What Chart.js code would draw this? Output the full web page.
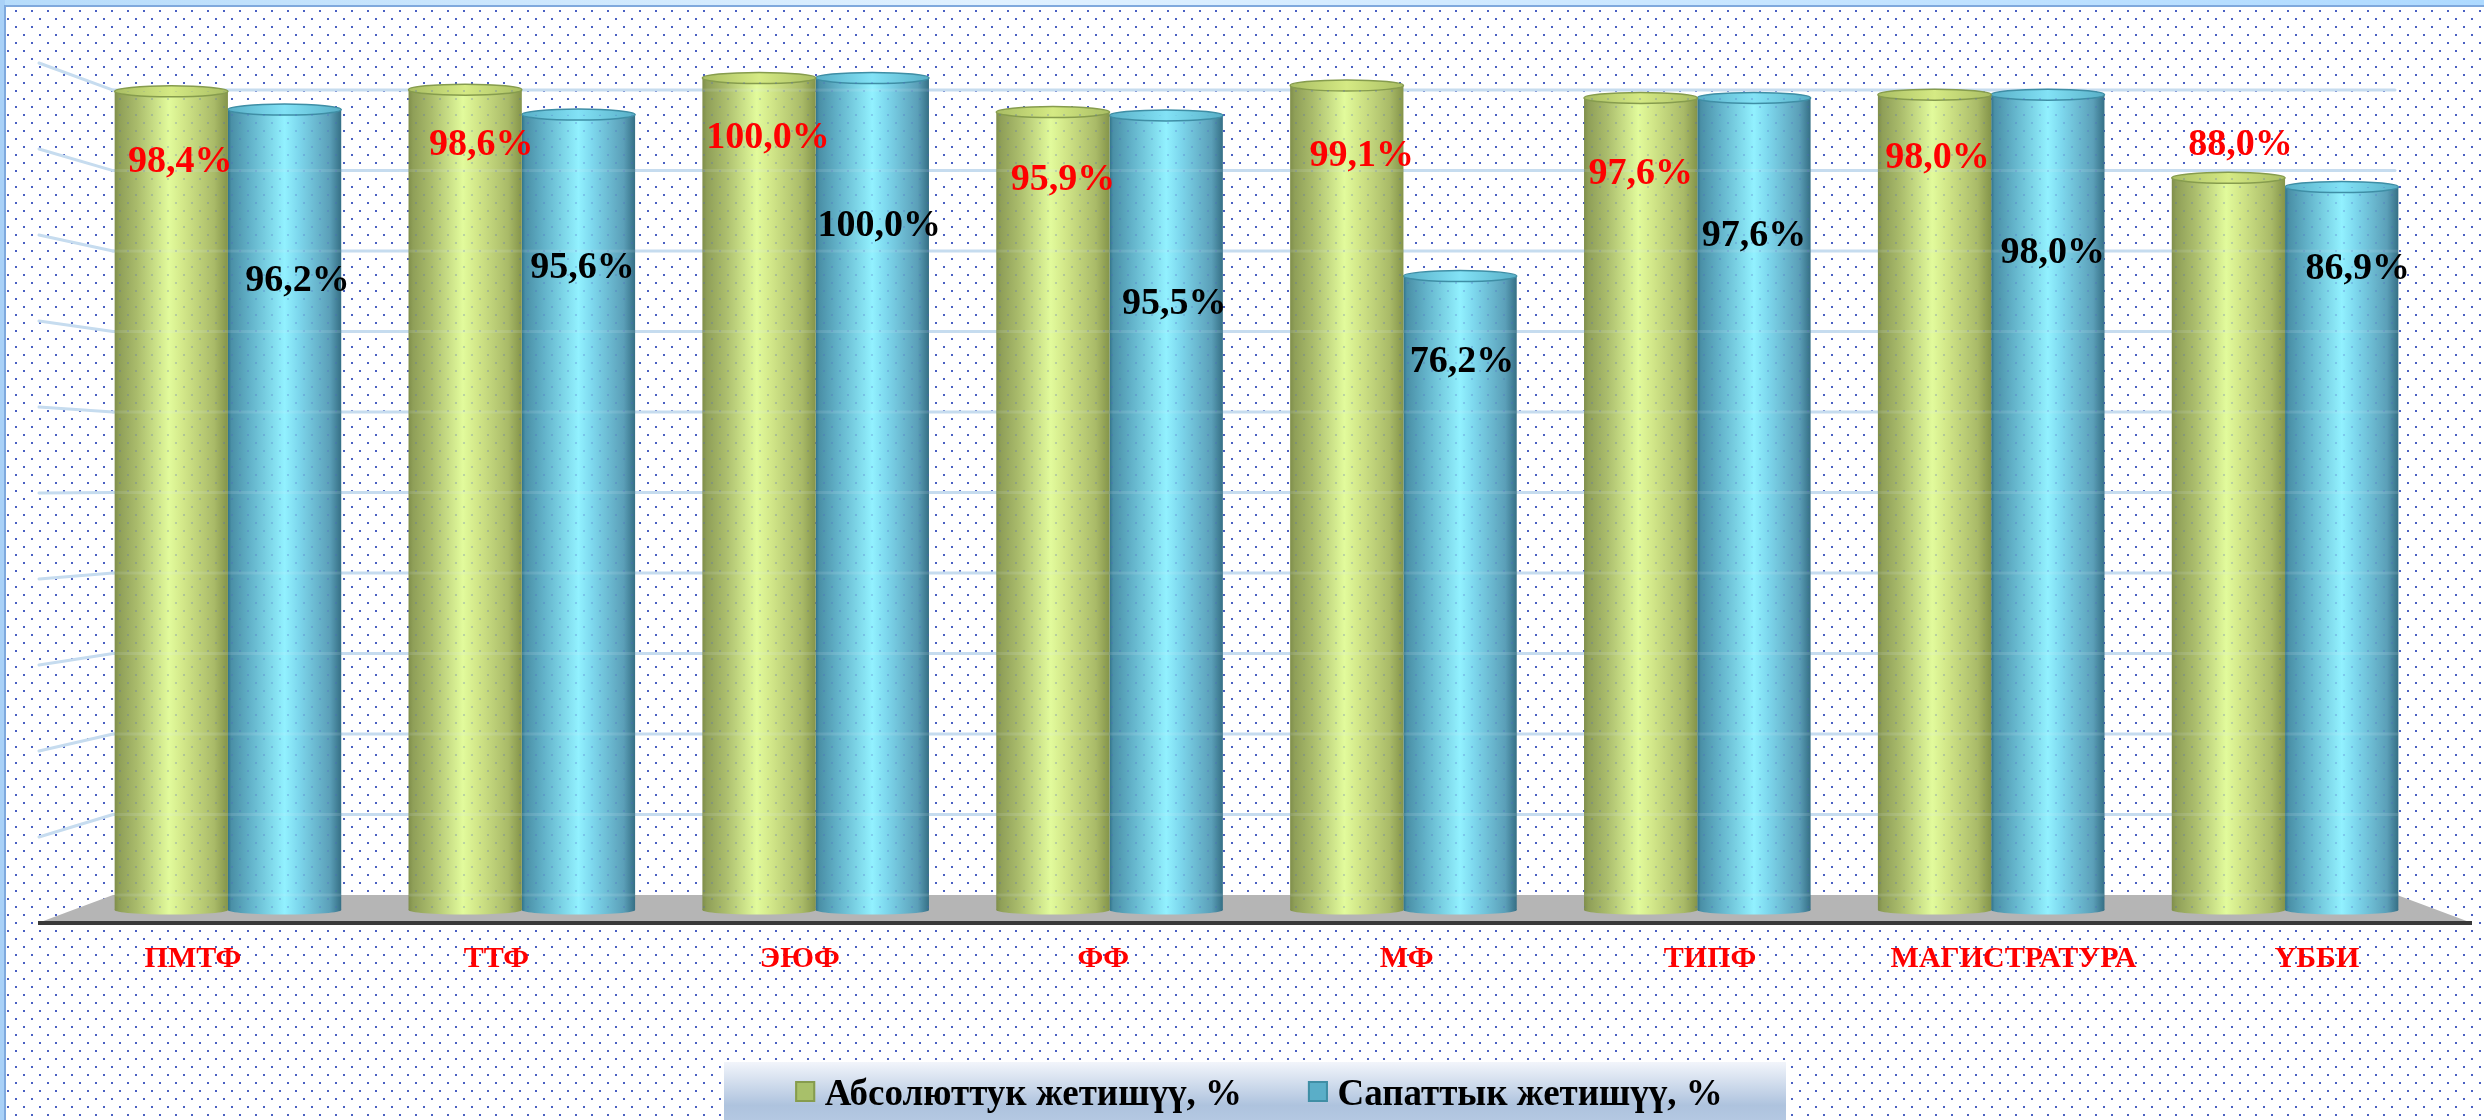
<!DOCTYPE html>
<html><head><meta charset="utf-8">
<style>html,body{margin:0;padding:0;background:#fff;overflow:hidden}#wrap{width:2484px;height:1120px}</style>
<script src="https://cdn.jsdelivr.net/npm/chart.js@4"></script>
</head><body><div id="wrap"><canvas id="c" width="2484" height="1120"></canvas></div>
<script>
const categories=['ПМТФ','ТТФ','ЭЮФ','ФФ','МФ','ТИПФ','МАГИСТРАТУРА','ҮББИ'];
const absolute=[98.4,98.6,100.0,95.9,99.1,97.6,98.0,88.0];
const quality=[96.2,95.6,100.0,95.5,76.2,97.6,98.0,86.9];
const seriesNames=['Абсолюттук жетишүү, %','Сапаттык жетишүү, %'];
const gridTicks=[0,10,20,30,40,50,60,70,80,90,100];
const absLabelOffsets=[[9,71],[16,56],[9,60],[10,68],[15,71],[0,76],[3,64],[12,-33]];
const qualLabelOffsets=[[13,172],[4,154],[7,148],[8,189],[2,86],[0,138],[5,159],[16,82]];

const SERIF='"Liberation Serif","Times New Roman",serif';
const CAT_PCT=0.771;
const styles=[
 {solid:'#a8c06a',edge:'#869c4e',capA:'#a9bd63',capB:'#d5ea84',
  stops:[[0,'#7f8e4a'],[.04,'#8f9f58'],[.2,'#aabc6c'],[.48,'#e2fb9c'],[.6,'#d3e88a'],[.88,'#a9ba68'],[1,'#84944a']]},
 {solid:'#5aaec8',edge:'#3f8ea5',capA:'#58aec6',capB:'#82e2f6',
  stops:[[0,'#2f7389'],[.03,'#4a8fa6'],[.2,'#63b3ca'],[.5,'#92f1ff'],[.62,'#7ed8ee'],[.9,'#5b9fb8'],[1,'#356f85']]}
];
function bandOf(chart,i,ds){
  const xs=chart.scales.x,c=xs.getPixelForValue(i),w=xs.width/categories.length*CAT_PCT/2;
  const left=c-w+ds*w;return [left,left+w];
}
function fillFor(ds){return ctx=>{
  if(ctx.type!=='data'||!ctx.chart.chartArea)return styles[ds].solid;
  const [l,r]=bandOf(ctx.chart,ctx.dataIndex,ds);
  const g=ctx.chart.ctx.createLinearGradient(l,0,r,0);
  styles[ds].stops.forEach(s=>g.addColorStop(s[0],s[1]));
  return g;
};}
function dotTile(){
  const t=document.createElement('canvas');t.width=16;t.height=16;
  const c=t.getContext('2d');c.fillStyle='#4a60c2';
  c.fillRect(15,10,1,2);c.fillRect(0,10,1,2);c.fillRect(7,2,2,2);
  return t;
}
const scene={
  id:'scene',
  beforeDraw(chart){
    const c=chart.ctx,W=chart.width,H=chart.height;
    c.save();
    c.fillStyle='#fff';c.fillRect(0,0,W,H);
    c.fillStyle=c.createPattern(dotTile(),'repeat');c.fillRect(6,6,W-6,H-6);
    let g=c.createLinearGradient(0,0,W,0);g.addColorStop(0,'#b6dcfb');g.addColorStop(.4,'#e0f1ff');g.addColorStop(1,'#aedaff');
    c.fillStyle=g;c.fillRect(0,0,W,5);
    c.fillStyle='#a9d1f7';c.fillRect(0,0,5,H);
    c.fillStyle='#7fa9dd';c.fillRect(4,5,W-4,2);c.fillRect(4,5,2,H-5);
    g=c.createLinearGradient(0,1062,0,1120);
    g.addColorStop(0,'#f2f5fb');g.addColorStop(.75,'#aec3de');g.addColorStop(1,'#b4c8e2');
    c.fillStyle=g;c.fillRect(724,1062,1062,58);
    c.restore();
  },
  beforeDatasetsDraw(chart){
    const c=chart.ctx,ys=chart.scales.yGrid;
    const bk=v=>ys.getPixelForValue(v);
    c.save();
    c.fillStyle='#b5b5b5';c.beginPath();
    c.moveTo(38,923);c.lineTo(113,bk(0));c.lineTo(2397,bk(0));c.lineTo(2472,923);c.closePath();c.fill();
    c.strokeStyle='#c6dcef';c.lineWidth=3;c.lineCap='round';
    gridTicks.forEach(v=>{
      if(v===0)return;
      c.beginPath();c.moveTo(113,bk(v));c.lineTo(2395,bk(v));c.stroke();
      c.beginPath();c.moveTo(39,63+86*(100-v)/10);c.lineTo(113,bk(v));c.stroke();
    });
    c.fillStyle='#3a3a3a';c.fillRect(38,921,2434,4);
    c.restore();
  },
  afterDatasetDraw(chart,args){
    const i=args.index,st=styles[i],c=chart.ctx,ys=chart.scales.yGrid;
    chart.getDatasetMeta(i).data.forEach((b,n)=>{
      const [l,r]=bandOf(chart,n,i),cx=(l+r)/2,rx=(r-l)/2;
      const g=c.createLinearGradient(l,0,r,0);st.stops.forEach(s=>g.addColorStop(s[0],s[1]));
      c.save();
      c.fillStyle=g;c.beginPath();c.ellipse(cx,b.base,rx,4.5,0,0,Math.PI*2);c.fill();
      const t=c.createLinearGradient(l,0,r,0);
      t.addColorStop(0,st.capA);t.addColorStop(.5,st.capB);t.addColorStop(1,st.capA);
      c.fillStyle=t;c.beginPath();c.ellipse(cx,b.y,rx,5.5,0,0,Math.PI*2);c.fill();
      c.strokeStyle=st.edge;c.lineWidth=1.5;c.stroke();
      c.beginPath();c.rect(l,b.y,r-l,b.base-b.y);
      c.clip();
      c.globalAlpha=.25;c.fillStyle=c.createPattern(dotTile(),'repeat');c.fillRect(l,b.y,r-l,b.base-b.y);
      c.globalAlpha=.14;c.fillStyle='#dfeaf5';
      gridTicks.forEach(v=>{const p=ys.getPixelForValue(v);if(p>b.y+8)c.fillRect(l,p-1.5,r-l,3);});
      c.restore();
    });
  },
  afterDatasetsDraw(chart){
    const c=chart.ctx;
    const offs=[absLabelOffsets,qualLabelOffsets],cols=['#ff0000','#000000'];
    c.save();c.font='bold 38px '+SERIF;c.textAlign='center';c.textBaseline='middle';
    [0,1].forEach(i=>{
      const vals=chart.data.datasets[i].data;
      chart.getDatasetMeta(i).data.forEach((b,n)=>{
        c.fillStyle=cols[i];
        c.fillText(vals[n].toFixed(1).replace('.',',')+'%',b.x+offs[i][n][0],b.y+offs[i][n][1]);
      });
    });
    c.restore();
  },
  afterLayout(chart){
    const L=chart.legend;if(!L)return;
    const h=L.height;L.top=1093-66-16;L.bottom=L.top+h;
    L.left=528;L.right=1990;
  },
  afterDraw(chart){
    const c=chart.ctx,L=chart.legend;
    (L.legendHitBoxes||[]).forEach((h,i)=>{
      c.save();c.fillStyle=styles[i].solid;c.strokeStyle=styles[i].edge;c.lineWidth=2;
      c.fillRect(h.left,1081,20,21);c.strokeRect(h.left+1,1082,18,19);c.restore();
    });
  }
};
new Chart(document.getElementById('c'),{
  type:'bar',
  data:{labels:categories,datasets:[
    {label:seriesNames[0],data:absolute,backgroundColor:fillFor(0),barPercentage:1,categoryPercentage:CAT_PCT,xAxisID:'x',yAxisID:'y'},
    {label:seriesNames[1],data:quality,backgroundColor:fillFor(1),barPercentage:1,categoryPercentage:CAT_PCT,xAxisID:'x',yAxisID:'y'}
  ]},
  options:{
    responsive:false,animation:false,
    layout:{padding:{left:81,right:52,top:78,bottom:0}},
    plugins:{
      tooltip:{enabled:false},
      legend:{position:'bottom',
        labels:{font:{family:SERIF,size:37,weight:'bold'},color:'#000',boxWidth:11,boxHeight:1,padding:66,
          generateLabels:ch=>ch.data.datasets.map((d,i)=>({text:d.label,fillStyle:'transparent',strokeStyle:'transparent',lineWidth:0,datasetIndex:i}))}}
    },
    scales:{
      x:{type:'category',display:false,grid:{display:false}},
      xLabels:{type:'linear',axis:'x',position:'bottom',offset:false,min:-0.369,max:7.3793,
        grid:{display:false,drawTicks:false,offset:false},border:{display:false},
        afterBuildTicks:a=>{a.ticks=categories.map((_,i)=>({value:i}));},
        afterFit:a=>{a.height=1120-910-(a.chart.legend?a.chart.legend.height:0);},
        ticks:{autoSkip:false,maxRotation:0,minRotation:0,padding:31,color:'#ff0000',
          font:{family:SERIF,size:30,weight:'bold'},callback:v=>categories[v]}},
      y:{type:'linear',display:false,min:0,max:100,grid:{display:false}},
      yGrid:{type:'linear',display:false,position:'left',min:-1.864,max:101.5,
        afterBuildTicks:a=>{a.ticks=gridTicks.map(v=>({value:v}));},grid:{display:false}}
    }
  },
  plugins:[scene]
});
</script></body></html>
